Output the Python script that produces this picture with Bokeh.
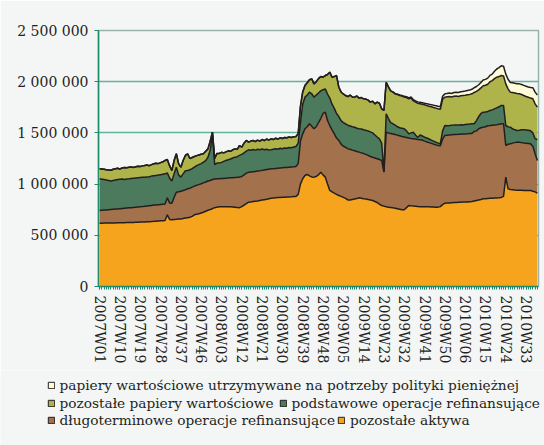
from bokeh.plotting import figure
from bokeh.models import (ColumnDataSource, FixedTicker, Range1d, Legend,
                          LegendItem, Label)
from bokeh.embed import file_html
from bokeh.resources import INLINE

# weekly categories 2007W01 .. 2010W38
weeks = ([f"2007W{w:02d}" for w in range(1, 53)] +
         [f"2008W{w:02d}" for w in range(1, 53)] +
         [f"2009W{w:02d}" for w in range(1, 54)] +
         [f"2010W{w:02d}" for w in range(1, 39)])

# values in thousands of mln EUR
pozostale_aktywa = [
    618, 618, 619, 619, 620, 620, 621, 621, 622, 622, 623, 623, 624, 625, 625, 626, 627, 628, 629, 630,
    631, 632, 633, 634, 636, 637, 639, 641, 643, 645,
    700, 655, 652, 655, 656, 658, 660, 664, 668, 672, 676, 685, 700, 705, 710, 718, 725, 735, 745, 752, 760,
    770, 775, 778, 780, 780, 780, 779, 778, 777, 775, 772, 770, 780, 795, 810, 823, 826, 830, 833, 836,
    840, 844, 848, 852, 857, 862, 864, 866, 868, 870, 871, 872, 874, 875, 876, 878, 879,
    900, 1000, 1052, 1084, 1094, 1080, 1070, 1068, 1075, 1090, 1116, 1090, 1068, 1000, 938, 925, 912, 900,
    889, 880, 870, 860, 845, 845, 850, 855, 860, 866, 862, 858, 855, 850, 845, 840, 830, 820, 805, 790, 785,
    778, 775, 772, 768, 765, 760, 755, 750, 749, 770, 791, 788, 786, 784, 781, 780, 780, 779, 778, 778,
    777, 776, 775, 775, 780, 800, 814,
    815, 816, 818, 820, 821, 822, 823, 824, 825, 826, 828, 830, 835, 840, 845, 850, 856, 858, 860, 862,
    863, 864, 865, 866, 870,
    880, 1068, 954, 948, 945, 942, 940, 940, 939, 938, 938, 938, 937, 930, 924, 911]

dlugoterminowe = [
    124, 126, 127, 129, 130, 132, 133, 135, 136, 138, 139, 141, 142, 143, 145, 146, 147, 148, 149, 150,
    152, 154, 156, 158, 159, 160, 160, 160, 160, 160,
    166, 160, 162, 215, 265, 267, 270, 274, 277, 282, 284, 285, 280, 283, 285, 285, 287, 285, 285, 283, 285,
    280, 277, 275, 274, 275, 277, 280, 283, 286, 290, 294, 298, 295, 295, 297, 292, 292, 291, 291, 291,
    290, 290, 290, 290, 289, 287, 287, 287, 287, 287, 288, 289, 289, 290, 291, 291, 293,
    300, 420, 439, 456, 466, 509, 495, 472, 485, 510, 524, 600, 634, 621, 634, 605, 578, 550, 537, 510,
    500, 500, 499, 495, 482, 470, 458, 446, 443, 440, 435, 430, 425, 422, 425, 428, 435, 441, 331,
    729, 725, 723, 722, 720, 718, 717, 715, 711, 685, 659, 658, 657, 656, 655, 653, 650, 641, 634, 627,
    621, 614, 608, 602, 595, 640, 661,
    663, 664, 664, 664, 664, 664, 665, 665, 665, 665, 665, 665, 679, 680, 695, 700, 700, 702, 710, 710,
    712, 714, 715, 718, 719,
    709, 309, 436, 445, 455, 463, 470, 468, 466, 464, 462, 459, 456, 440, 372, 320]

podstawowe = [
    310, 304, 298, 292, 285, 278, 281, 284, 287, 288, 288, 282, 284, 284, 285, 286, 286, 286, 286, 286,
    285, 284, 283, 286, 287, 288, 289, 291, 293, 295,
    244, 245, 216, 230, 244, 165, 138, 162, 185, 179, 180, 180, 185, 192, 195, 197, 202, 210, 233, 295, 440,
    140, 153, 152, 158, 167, 173, 179, 184, 192, 198, 202, 212, 215, 215, 215, 220, 212, 217, 208, 213,
    206, 208, 197, 198, 187, 186, 189, 192, 185, 193, 186, 191, 187, 193, 188, 193, 195,
    200, 180, 289, 309, 310, 309, 317, 309, 310, 290, 270, 231, 228, 259, 268, 250, 250, 240, 234, 230,
    230, 229, 231, 228, 228, 230, 227, 228, 233, 232, 235, 238, 240, 238, 225, 212, 202, 169, 4,
    180, 140, 105, 99, 90, 82, 78, 80, 80, 65, 41, 54, 64, 40, 20, 47, 40, 38, 38, 35,
    32, 30, 27, 23, 20, 80, 97,
    92, 92, 93, 92, 93, 90, 92, 89, 92, 93, 93, 94, 76, 100, 120, 140, 146, 145, 140, 147,
    150, 157, 165, 171, 179,
    179, 195, 170, 163, 140, 125, 113, 117, 125, 128, 128, 128, 127, 130, 146, 204]

pozostale_papiery = [
    98, 100, 101, 100, 103, 105, 110, 110, 110, 100, 108, 116, 110, 113, 113, 105, 110, 113, 108, 112,
    114, 116, 108, 112, 116, 119, 112, 118, 122, 131,
    130, 120, 103, 130, 131, 110, 97, 130, 150, 163, 110, 110, 105, 98, 95, 92, 82, 90, 81, 90, 22,
    60, 95, 95, 98, 83, 85, 87, 75, 80, 81, 72, 97, 70, 95, 104, 75, 90, 88, 83, 90,
    84, 93, 90, 100, 97, 107, 95, 103, 100, 102, 100, 103, 102, 102, 100, 100, 98,
    91, 160, 120, 114, 120, 121, 146, 130, 130, 140, 141, 123, 130, 190, 253, 264, 310, 370, 286, 280,
    280, 276, 280, 302, 290, 294, 315, 300, 307, 303, 305, 302, 290, 310, 304, 340, 348, 335, 599,
    308, 310, 310, 309, 305, 315, 315, 315, 310, 325, 342, 340, 308, 320, 334, 305, 310, 316, 318, 320,
    325, 328, 332, 335, 335, 310, 277,
    282, 283, 275, 282, 282, 280, 282, 287, 286, 288, 290, 293, 305, 285, 260, 250, 258, 260, 265, 281,
    285, 295, 299, 295, 292,
    287, 407, 370, 342, 355, 360, 362, 357, 345, 335, 328, 323, 320, 333, 342, 316]

papiery_polityki = [0] * 130 + [
    2, 3, 4, 5, 6, 7, 8, 9, 10, 11, 12, 13, 14, 15, 16, 18, 19, 21, 22, 24, 25, 26, 28,
    32, 33, 34, 35, 36, 37, 38, 39, 40, 41, 42, 43, 44, 46, 48, 50, 53, 56, 58, 60, 62, 64,
    72, 80, 88, 95, 96, 95, 94, 94, 95, 95, 96, 97, 98, 99, 100, 101, 103, 108, 114, 120]

series_names = ["pozostałe aktywa",
                "długoterminowe operacje refinansujące",
                "podstawowe operacje refinansujące",
                "pozostałe papiery wartościowe",
                "papiery wartościowe utrzymywane na potrzeby polityki pieniężnej"]

y_ticks = [0, 500000, 1000000, 1500000, 2000000, 2500000]
y_tick_labels = ["0", "500 000", "1 000 000", "1 500 000", "2 000 000", "2 500 000"]

N = len(weeks)
for s in (pozostale_aktywa, dlugoterminowe, podstawowe, pozostale_papiery, papiery_polityki):
    assert len(s) == N, len(s)

UNIT = 1000  # thousands of mln EUR -> mln EUR
BG = "#F4F5F5"
INK = "#231F20"
TEAL = "#1E8B6C"
GRID = "#62B49B"
FONT = "DejaVu Serif"
colors = ["#F6A41E", "#A3714B", "#4B7A5D", "#AEB449", "#FEFBD6"]
keys = ["a", "b", "c", "d", "e"]

src = ColumnDataSource(dict(
    x=list(range(N)),
    a=[v * UNIT for v in pozostale_aktywa],
    b=[v * UNIT for v in dlugoterminowe],
    c=[v * UNIT for v in podstawowe],
    d=[v * UNIT for v in pozostale_papiery],
    e=[v * UNIT for v in papiery_polityki],
))

W = 544
H_MAIN = 370
H_LEG = 75

p = figure(width=W, height=H_MAIN, output_backend="svg", toolbar_location=None,
           x_range=Range1d(-0.5, N - 0.5), y_range=Range1d(0, 2500000),
           min_border_left=98, min_border_right=6, min_border_top=30,
           min_border_bottom=H_MAIN - 286,
           background_fill_color=BG, border_fill_color=BG)

p.varea_stack(stackers=keys, x="x", color=colors, source=src)
p.vline_stack(stackers=keys, x="x", color=INK, line_width=1.5, source=src)

# axes
p.yaxis.ticker = FixedTicker(ticks=y_ticks)
p.yaxis.major_label_overrides = {t: l for t, l in zip(y_ticks, y_tick_labels)}
p.yaxis.axis_line_color = TEAL
p.yaxis.axis_line_width = 1.5
p.yaxis.major_tick_line_color = TEAL
p.yaxis.major_tick_out = 4
p.yaxis.major_tick_in = 0
p.yaxis.minor_tick_line_color = None
p.yaxis.major_label_standoff = 6
p.yaxis.major_label_text_font = FONT
p.yaxis.major_label_text_font_size = "14px"
p.yaxis.major_label_text_color = INK

label_idx = list(range(0, N, 9))
p.xaxis.ticker = FixedTicker(ticks=label_idx, minor_ticks=list(range(N)))
p.xaxis.major_label_overrides = {i: weeks[i] for i in label_idx}
p.xaxis.major_label_orientation = "vertical"
p.xaxis.axis_line_color = TEAL
p.xaxis.axis_line_width = 1.5
p.xaxis.major_tick_line_color = TEAL
p.xaxis.minor_tick_line_color = TEAL
p.xaxis.major_tick_out = 3
p.xaxis.major_tick_in = 0
p.xaxis.minor_tick_out = 3
p.xaxis.minor_tick_in = 0
p.xaxis.major_label_standoff = 6
p.xaxis.major_label_text_font = FONT
p.xaxis.major_label_text_font_size = "14px"
p.xaxis.major_label_text_color = INK

p.xgrid.visible = False
p.ygrid.grid_line_color = GRID
p.ygrid.grid_line_width = 1.5
p.outline_line_color = "#9AB3AC"
p.outline_line_width = 1.5

p.add_layout(Label(x=-0.5, y=2500000, x_offset=1, y_offset=3, text="mln EUR",
                   text_font=FONT, text_font_size="14px", text_color=INK,
                   text_baseline="bottom"))

# legend panel (separate figure below the chart, no axes)
lf = figure(width=W, height=H_LEG, output_backend="svg", toolbar_location=None,
            x_range=Range1d(0, 1), y_range=Range1d(0, 1),
            x_axis_location=None, y_axis_location=None,
            min_border_left=0, min_border_right=0, min_border_top=0,
            min_border_bottom=0, background_fill_color=BG, border_fill_color=BG,
            outline_line_color=None)
lf.grid.visible = False

sw = {}
for k, c in zip(keys, colors):
    # swatch glyphs only used by the legend; placed outside the visible range
    sw[k] = lf.quad(left=[5], right=[6], top=[5], bottom=[6], fill_color=c,
                    line_color=INK, line_width=1)

def make_legend(items, loc, spacing):
    lg = Legend(items=[LegendItem(label=series_names[keys.index(k)], renderers=[sw[k]])
                       for k in items],
                location=loc, orientation="horizontal", spacing=spacing,
                padding=0, margin=0, glyph_width=8, glyph_height=8,
                label_standoff=5, label_height=14,
                label_text_font=FONT, label_text_font_size="13.7px",
                label_text_color=INK, background_fill_alpha=0,
                border_line_alpha=0)
    lf.add_layout(lg, "center")

make_legend(["e"], (46.5, 52), 9)
make_legend(["d", "c"], (46.5, 34), 5)
make_legend(["b", "a"], (46.5, 17), 2)

open("out.html", "w").write(file_html([p, lf], INLINE))
